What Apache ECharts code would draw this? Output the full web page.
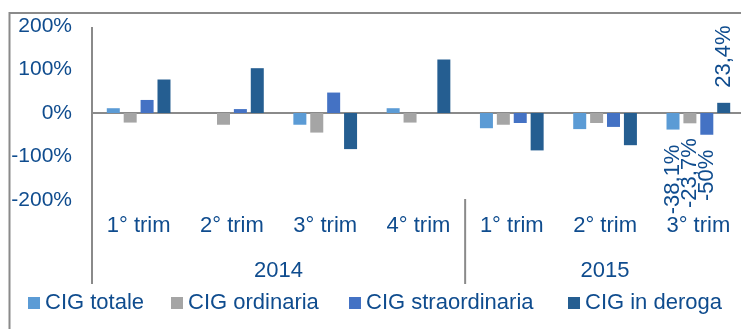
<!DOCTYPE html>
<html>
<head>
<meta charset="utf-8">
<style>
  html, body { margin: 0; padding: 0; background: #ffffff; }
  #chart { width: 741px; height: 329px; }
</style>
<script src="https://cdn.jsdelivr.net/npm/echarts@6/dist/echarts.min.js"></script>
</head>
<body>
<div id="chart"></div>
<script>
// Quarterly change of CIG hours (Cassa Integrazione Guadagni), 2014-2015
const quarters = ['1° trim', '2° trim', '3° trim', '4° trim', '1° trim', '2° trim', '3° trim'];
const years = ['2014', '2015'];
const quartersPerYear = [4, 3];

const seriesNames = ['CIG totale', 'CIG ordinaria', 'CIG straordinaria', 'CIG in deroga'];
const cigTotale = [11, 0, -27, 11, -35, -37, -38.1];
const cigOrdinaria = [-22, -27, -45, -22, -27, -23, -23.7];
const cigStraordinaria = [30, 9, 47, 0, -23, -32, -50];
const cigDeroga = [77, 103, -83, 123, -86, -74, 23.4];

const yTicks = [-200, -100, 0, 100, 200];

const TEXT = '#0F4C8E';
const LINE = '#8a8a8a';
const FONT = '"Liberation Sans", Arial, sans-serif';
const colors = ['#5B9BD5', '#A5A5A5', '#4472C4', '#255E91'];

// the latest quarter carries rotated value labels
const labelledIndex = quarters.length - 1;

function fmtPct(v) {
  return String(v).replace('.', ',') + '%';
}

function buildData(values) {
  return values.map(function (v, i) {
    if (i !== labelledIndex) return v;
    return {
      value: v,
      label: {
        show: true,
        position: v >= 0 ? 'top' : 'bottom',
        rotate: 90,
        align: v >= 0 ? 'left' : 'right',
        verticalAlign: 'middle',
        distance: 15,
        fontSize: 22,
        fontFamily: FONT,
        color: TEXT,
        formatter: function (p) { return fmtPct(p.value); }
      }
    };
  });
}

const seriesValues = [cigTotale, cigOrdinaria, cigStraordinaria, cigDeroga];
const legendLefts = [28, 171, 349, 568];

const chart = echarts.init(document.getElementById('chart'), null, { renderer: 'canvas' });

const option = {
  backgroundColor: '#ffffff',
  animation: false,
  color: colors,
  textStyle: { fontFamily: FONT },
  grid: {
    left: 92,
    top: 26,
    width: 653,
    height: 174,
    containLabel: false,
    outerBoundsMode: 'none'
  },
  legend: seriesNames.map(function (name, i) {
    return {
      data: [name],
      left: legendLefts[i],
      top: 292,
      icon: 'rect',
      itemWidth: 12,
      itemHeight: 12,
      padding: 0,
      textStyle: { fontSize: 22, color: TEXT, fontFamily: FONT }
    };
  }),
  xAxis: [
    {
      // category axis drawn at the zero line
      type: 'category',
      data: quarters,
      axisLine: { onZero: true, lineStyle: { color: LINE, width: 2 } },
      axisTick: { show: false },
      axisLabel: { show: false },
      splitLine: { show: false }
    },
    {
      // quarter labels under the plot
      type: 'category',
      data: quarters,
      position: 'bottom',
      axisLine: { show: false, onZero: false },
      axisTick: { show: false },
      axisLabel: { fontSize: 22, color: TEXT, fontFamily: FONT, margin: 15, interval: 0 },
      splitLine: { show: false }
    }
  ],
  yAxis: {
    type: 'value',
    min: yTicks[0],
    max: yTicks[yTicks.length - 1],
    interval: 100,
    axisLine: { show: false },
    axisTick: { show: false },
    splitLine: { show: false },
    axisLabel: {
      fontSize: 21,
      color: TEXT,
      fontFamily: FONT,
      margin: 20,
      formatter: '{value}%'
    }
  },
  series: seriesNames.map(function (name, i) {
    return {
      name: name,
      type: 'bar',
      xAxisIndex: 0,
      barWidth: 13,
      barGap: '30%',
      data: buildData(seriesValues[i]),
      itemStyle: { color: colors[i] }
    };
  })
};

chart.setOption(option);

// Frame, axis dividers and year labels, positioned from the category scale
function px(idx) {
  return chart.convertToPixel({ xAxisIndex: 0 }, idx);
}
const band = px(1) - px(0);
const axisLeft = px(0) - band / 2;
const yearBreak = (px(quartersPerYear[0] - 1) + px(quartersPerYear[0])) / 2;
const year1Center = (px(0) + px(quartersPerYear[0] - 1)) / 2;
const year2Center = (px(quartersPerYear[0]) + px(quartersPerYear[0] + quartersPerYear[1] - 1)) / 2;
const plotTop = chart.convertToPixel({ yAxisIndex: 0 }, yTicks[yTicks.length - 1]);
const plotBottom = chart.convertToPixel({ yAxisIndex: 0 }, yTicks[0]);

chart.setOption({
  graphic: [
    {
      type: 'rect',
      shape: { x: 9.5, y: 13, width: 900, height: 500 },
      style: { fill: 'none', stroke: LINE, lineWidth: 2 },
      silent: true
    },
    {
      type: 'line',
      shape: { x1: axisLeft, y1: plotTop + 1, x2: axisLeft, y2: 284 },
      style: { stroke: LINE, lineWidth: 2 },
      silent: true
    },
    {
      type: 'line',
      shape: { x1: yearBreak, y1: plotBottom - 1, x2: yearBreak, y2: 284 },
      style: { stroke: LINE, lineWidth: 2 },
      silent: true
    },
    {
      type: 'text',
      x: year1Center,
      y: 271,
      style: { text: years[0], fontSize: 22, fontFamily: FONT, fill: TEXT, align: 'center', verticalAlign: 'middle' },
      silent: true
    },
    {
      type: 'text',
      x: year2Center,
      y: 271,
      style: { text: years[1], fontSize: 22, fontFamily: FONT, fill: TEXT, align: 'center', verticalAlign: 'middle' },
      silent: true
    }
  ]
});
</script>
</body>
</html>
